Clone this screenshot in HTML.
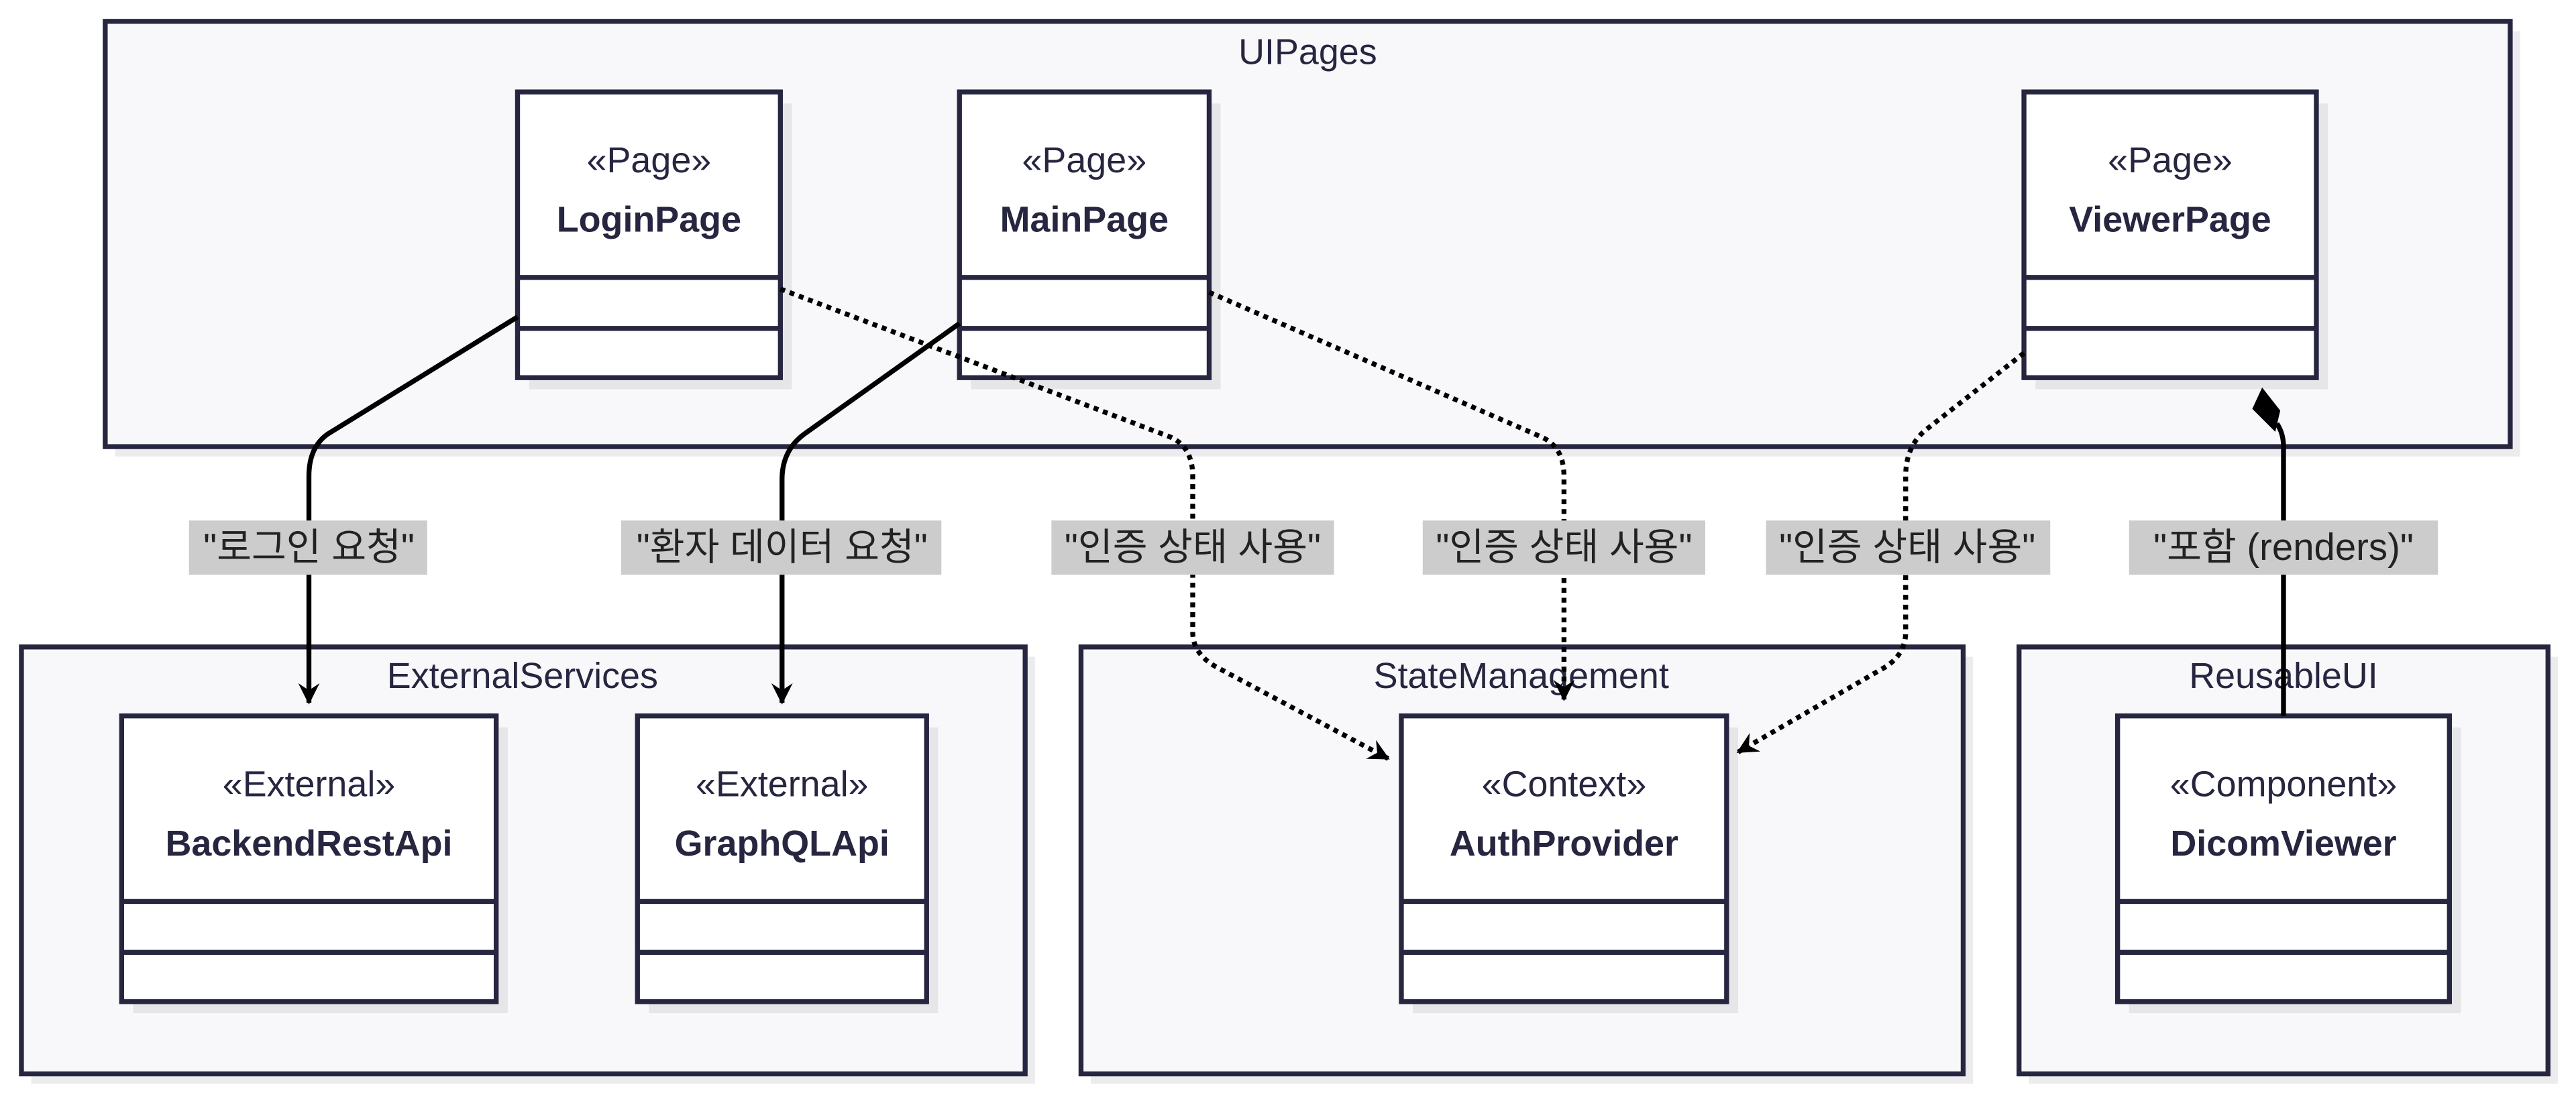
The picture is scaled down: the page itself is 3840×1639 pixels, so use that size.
<!DOCTYPE html>
<html><head><meta charset="utf-8"><style>
html,body{margin:0;padding:0;background:#fff;}
svg{display:block}
text{font-family:"Liberation Sans","Noto Sans CJK KR",sans-serif;fill:#272640;}
.t{font-size:22px;text-anchor:middle}
.b{font-size:22px;font-weight:bold;text-anchor:middle}
.l{font-size:23px;text-anchor:middle;fill:#222}
</style></head><body>
<svg width="3840" height="1639" viewBox="0 0 1568 669.3" xmlns="http://www.w3.org/2000/svg">
<defs>
<marker id="ar" viewBox="0 0 12 12" refX="11" refY="6" markerWidth="13" markerHeight="13" markerUnits="userSpaceOnUse" orient="auto">
<path d="M0,0 L12,6 L0,12 L4,6 z" fill="#000"/></marker>
</defs>
<g stroke="none" fill="#ececee">
<rect x="70" y="19" width="1464" height="259"/>
<rect x="19" y="400" width="611" height="260"/>
<rect x="664" y="400" width="537" height="260"/>
<rect x="1235" y="400" width="322" height="260"/>
</g>
<g stroke="#272640" stroke-width="3" fill="#f8f8fa">
<rect x="64" y="13" width="1464" height="259"/>
<rect x="13" y="394" width="611" height="260"/>
<rect x="658" y="394" width="537" height="260"/>
<rect x="1229" y="394" width="322" height="260"/>
</g>
<text class="t" x="796" y="39">UIPages</text>
<text class="t" x="318" y="419">ExternalServices</text>
<text class="t" x="926" y="419">StateManagement</text>
<text class="t" x="1390" y="419">ReusableUI</text>

<g fill="#e6e6e9">
<rect x="322" y="63" width="160" height="174"/>
<rect x="591" y="63" width="152" height="174"/>
<rect x="1239" y="63" width="178" height="174"/>
<rect x="81" y="443" width="228" height="174"/>
<rect x="395" y="443" width="176" height="174"/>
<rect x="860" y="443" width="198" height="174"/>
<rect x="1296" y="443" width="202" height="174"/>
</g>
<g stroke="#272640" stroke-width="3" fill="#fff">
<rect x="315" y="56" width="160" height="174"/><path d="M315 169H475M315 200H475"/>
<rect x="584" y="56" width="152" height="174"/><path d="M584 169H736M584 200H736"/>
<rect x="1232" y="56" width="178" height="174"/><path d="M1232 169H1410M1232 200H1410"/>
<rect x="74" y="436" width="228" height="174"/><path d="M74 549H302M74 580H302"/>
<rect x="388" y="436" width="176" height="174"/><path d="M388 549H564M388 580H564"/>
<rect x="853" y="436" width="198" height="174"/><path d="M853 549H1051M853 580H1051"/>
<rect x="1289" y="436" width="202" height="174"/><path d="M1289 549H1491M1289 580H1491"/>
</g>
<text class="t" x="395" y="105">«Page»</text><text class="b" x="395" y="141">LoginPage</text>
<text class="t" x="660" y="105">«Page»</text><text class="b" x="660" y="141">MainPage</text>
<text class="t" x="1321" y="105">«Page»</text><text class="b" x="1321" y="141">ViewerPage</text>
<text class="t" x="188" y="485">«External»</text><text class="b" x="188" y="521">BackendRestApi</text>
<text class="t" x="476" y="485">«External»</text><text class="b" x="476" y="521">GraphQLApi</text>
<text class="t" x="952" y="485">«Context»</text><text class="b" x="952" y="521">AuthProvider</text>
<text class="t" x="1390" y="485">«Component»</text><text class="b" x="1390" y="521">DicomViewer</text>

<g fill="none" stroke="#000" stroke-width="3">
<path d="M315 193 L200 264 Q188 272 188 290 L188 428" marker-end="url(#ar)"/>
<path d="M584 197 L490 264 Q476 274 476 292 L476 428" marker-end="url(#ar)"/>
<path d="M1390 436 L1390 272 Q1390 264 1386 258"/>
</g>
<path d="M1377 236 L1388 250 L1385 263 L1371 249 z" fill="#000"/>
<g fill="none" stroke="#000" stroke-width="3" stroke-dasharray="3,3">
<path d="M475 176 L712 266 Q726 272 726 290 L726 385 Q726 398 740 406 L845 462" marker-end="url(#ar)"/>
<path d="M736 178 L938 266 Q952 272 952 290 L952 426" marker-end="url(#ar)"/>
<path d="M1232 215 L1172 262 Q1160 272 1160 290 L1160 385 Q1160 398 1148 406 L1058 458" marker-end="url(#ar)"/>
</g>
<g fill="#cccccc">
<rect x="115" y="317" width="145" height="33"/>
<rect x="378" y="317" width="195" height="33"/>
<rect x="640" y="317" width="172" height="33"/>
<rect x="866" y="317" width="172" height="33"/>
<rect x="1075" y="317" width="173" height="33"/>
<rect x="1296" y="317" width="188" height="33"/>
</g>
<text class="l" x="188" y="341">"로그인 요청"</text>
<text class="l" x="476" y="341">"환자 데이터 요청"</text>
<text class="l" x="726" y="341">"인증 상태 사용"</text>
<text class="l" x="952" y="341">"인증 상태 사용"</text>
<text class="l" x="1161" y="341">"인증 상태 사용"</text>
<text class="l" x="1390" y="341">"포함 (renders)"</text>
</svg>
</body></html>
